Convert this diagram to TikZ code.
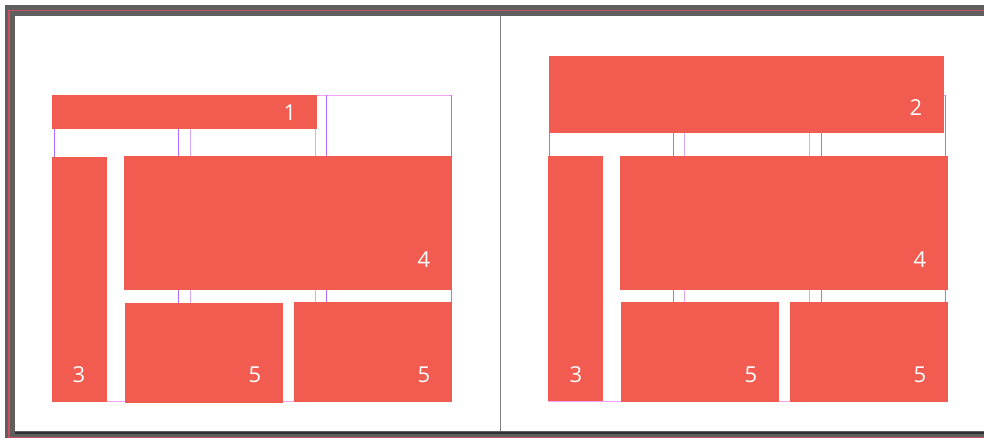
\documentclass[tikz,border=0pt]{standalone}
\usepackage{fontspec}
\setmainfont{Open Sans}
\definecolor{blockred}{HTML}{F15B50}
\definecolor{guide}{HTML}{B46CFF}
\definecolor{guidelt}{HTML}{D8A8FF}
\definecolor{guidepk}{HTML}{F7A0F7}
\definecolor{framegray}{HTML}{5F5F5F}
\definecolor{framedark}{HTML}{303030}
\definecolor{frameline}{HTML}{C9505E}
\definecolor{divider}{HTML}{808080}
\tikzset{
  blk/.style={fill=blockred, draw=none},
  lbl/.style={text=white, font=\fontsize{22}{22}\selectfont, inner sep=0pt, anchor=center},
  gd/.style={draw=guide, line width=1pt},
  gdl/.style={draw=guidelt, line width=1pt},
  gdp/.style={draw=guidepk, line width=1pt},
}
\begin{document}
\begin{tikzpicture}[x=1pt,y=-1pt]
\useasboundingbox (0,0) rectangle (984,438);
% frame
\fill[framegray] (5,5) rectangle (984,438);
\fill[white] (15,16) rectangle (984,431);
\draw[framedark, line width=2pt] (15,432.5) -- (984,432.5);
\draw[frameline, line width=1.2pt] (9,438) -- (9,10.5) -- (984,10.5);
\draw[frameline, line width=1pt] (9,437.6) -- (984,437.6);
\draw[divider, line width=1.2pt] (500.5,16) -- (500.5,431);

% left page guides
\draw[gdp] (52,95.5) -- (451,95.5);
\draw[gdp] (52,401) -- (452,401);
\draw[gd]  (54,95) -- (54,401);
\draw[gd]  (178.3,95) -- (178.3,401);
\draw[gdl] (190.5,95) -- (190.5,401);
\draw[gdl] (315,95) -- (315,401);
\draw[gd]  (326.5,95) -- (326.5,401);
\draw[gd]  (451,95) -- (451,401);

% right page guides
\draw[gdp] (549,95.5) -- (946,95.5);
\draw[gdp] (548,401) -- (948,401);
\draw[gd]  (549.5,95) -- (549.5,401);
\draw[gd]  (673.3,95) -- (673.3,401);
\draw[gdl] (684.7,95) -- (684.7,401);
\draw[gdl] (809,95) -- (809,401);
\draw[gd]  (821.3,95) -- (821.3,401);
\draw[gd]  (945.3,95) -- (945.3,401);

% left page blocks
\path[blk] (52,95) rectangle (317,129.5);
\path[blk] (52,157) rectangle (107,401.5);
\path[blk] (124,156) rectangle (451.7,290);
\path[blk] (125,302.5) rectangle (282.7,402.7);
\path[blk] (294,302) rectangle (452,401.5);
\node[lbl] (l1) at (290,113) {1};
\node[lbl] (l3a) at (79,375) {3};
\node[lbl] (l4a) at (424,260) {4};
\node[lbl] (l5a) at (255,375) {5};
\node[lbl] (l5b) at (424,375) {5};

% right page blocks
\path[blk] (549,56) rectangle (944,133.5);
\path[blk] (548,156) rectangle (603,400.7);
\path[blk] (620,156) rectangle (947.7,290);
\path[blk] (621,302) rectangle (779,401.7);
\path[blk] (790,302) rectangle (948,401.7);
\node[lbl] (l2) at (916,108) {2};
\node[lbl] (l3b) at (576,375) {3};
\node[lbl] (l4b) at (920,260) {4};
\node[lbl] (l5c) at (751,375) {5};
\node[lbl] (l5d) at (920,375) {5};
\end{tikzpicture}
\end{document}
